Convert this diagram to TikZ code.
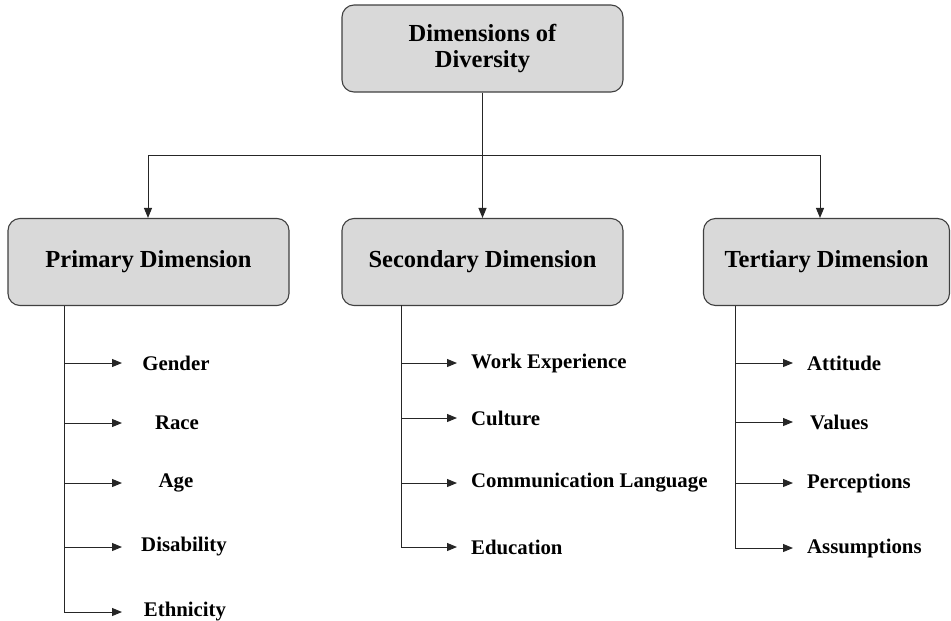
\documentclass[tikz,border=0pt]{standalone}
\usepackage{fontspec}
\setmainfont{Liberation Serif}
\usetikzlibrary{arrows.meta}
\begin{document}
\begin{tikzpicture}[x=1pt,y=-1pt,
  boxst/.style={draw=black!75,fill=black!15,rounded corners=12pt,line width=1.1pt,
    minimum width=281pt,minimum height=87pt,align=center,inner sep=0pt,
    font=\fontsize{24.5}{26}\selectfont\bfseries},
  itemst/.style={inner sep=0pt,font=\fontsize{20.8}{24}\selectfont\bfseries},
  conn/.style={draw=black!85,line width=1pt},
  arr/.style={conn,-{Triangle[length=10pt,width=8pt]}}]
\useasboundingbox (0,0) rectangle (951,621);
% boxes
\node[boxst] (top) at (482.5,48.5) {Dimensions of\\Diversity};
\node[boxst] (prim) at (148.5,262) {Primary Dimension};
\node[boxst] (sec) at (482.5,262) {Secondary Dimension};
\node[boxst,minimum width=246pt] (ter) at (826.5,262) {Tertiary Dimension};
% top connectors
\coordinate (hl) at (148,155);
\coordinate (hr) at (820,155);
\draw[conn] (hl) -- (hr);
\draw[arr] (top.south) -- (sec.north);
\draw[arr] (hl) -- (hl |- prim.north);
\draw[arr] (hr) -- (hr |- ter.north);
% primary items
\node[itemst] (gender) at (176,363) {Gender};
\node[itemst] (race) at (177,423) {Race};
\node[itemst] (age) at (176,483) {Age};
\node[itemst] (disab) at (184,547) {Disability};
\node[itemst] (ethn) at (185,612) {Ethnicity};
\coordinate (pt) at (64,306);
\coordinate (pb) at (64,612);
\draw[conn] (pt) -- (pb);
\foreach \n in {gender,race,age,disab,ethn}{
  \draw[arr] (pt |- \n) -- (122,0 |- \n);
}
% secondary items
\node[itemst,anchor=west] (work) at (471,363) {Work Experience};
\node[itemst,anchor=west] (cult) at (471,418) {Culture};
\node[itemst,anchor=west] (comm) at (471,483) {Communication Language};
\node[itemst,anchor=west] (edu) at (471,547) {Education};
\coordinate (st) at (401,305);
\coordinate (sb) at (401,547);
\draw[conn] (st) -- (sb);
\foreach \n in {work,cult,comm,edu}{
  \draw[arr] (st |- \n) -- (457,0 |- \n);
}
% tertiary items
\node[itemst,anchor=west] (att) at (807,363) {Attitude};
\node[itemst,anchor=west] (val) at (810,422) {Values};
\node[itemst,anchor=west] (perc) at (807,483) {Perceptions};
\node[itemst,anchor=west] (assum) at (807,548) {Assumptions};
\coordinate (tt) at (735,306);
\coordinate (tb) at (735,548);
\draw[conn] (tt) -- (tb);
\foreach \n in {att,val,perc,assum}{
  \draw[arr] (tt |- \n) -- (793,0 |- \n);
}
\end{tikzpicture}
\end{document}
